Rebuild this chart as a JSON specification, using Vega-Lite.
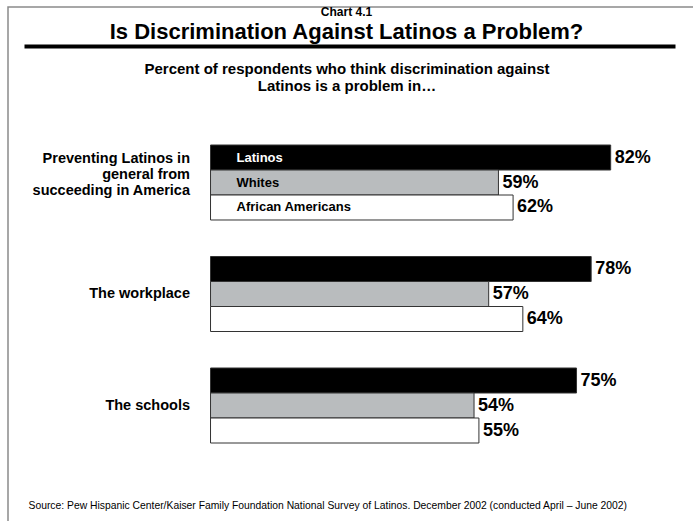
{
  "$schema": "https://vega.github.io/schema/vega-lite/v6.json",
  "width": 685,
  "height": 514,
  "autosize": {"type": "none"},
  "padding": {"left": 8, "top": 7, "right": 0, "bottom": 0},
  "background": "white",
  "config": {
    "font": "Liberation Sans",
    "view": {"stroke": "#8a8a8a", "strokeWidth": 1.5, "strokeDash": [685, 1199, 514]}
  },
  "title": {
    "text": "Chart 4.1",
    "subtitle": "Is Discrimination Against Latinos a Problem?",
    "font": "Liberation Sans",
    "fontSize": 12,
    "fontWeight": "bold",
    "color": "black",
    "subtitleFont": "Liberation Sans",
    "subtitleFontSize": 22,
    "subtitleFontWeight": "bold",
    "subtitleColor": "black",
    "subtitlePadding": 3,
    "anchor": "middle",
    "frame": "group",
    "offset": -37,
    "dx": -4
  },
  "data": {
    "values": [
      {"group": "Preventing Latinos in|general from|succeeding in America", "race": "Latinos", "value": 82},
      {"group": "Preventing Latinos in|general from|succeeding in America", "race": "Whites", "value": 59},
      {"group": "Preventing Latinos in|general from|succeeding in America", "race": "African Americans", "value": 62},
      {"group": "The workplace", "race": "Latinos", "value": 78},
      {"group": "The workplace", "race": "Whites", "value": 57},
      {"group": "The workplace", "race": "African Americans", "value": 64},
      {"group": "The schools", "race": "Latinos", "value": 75},
      {"group": "The schools", "race": "Whites", "value": 54},
      {"group": "The schools", "race": "African Americans", "value": 55}
    ]
  },
  "transform": [{"calculate": "datum.value + '%'", "as": "label"}],
  "encoding": {
    "y": {
      "field": "group",
      "type": "nominal",
      "sort": ["Preventing Latinos in|general from|succeeding in America", "The workplace", "The schools"],
      "scale": {"paddingInner": 0.3274, "paddingOuter": 0.9686, "align": 0.6389},
      "axis": {
        "orient": "left",
        "domain": false,
        "ticks": false,
        "grid": false,
        "labelPadding": -181.5,
        "labelAlign": "right",
        "labelBaseline": "middle",
        "labelOffset": {"condition": {"test": "indexof(datum.value, '|') >= 0", "value": -24}, "value": 0},
        "labelExpr": "split(datum.value, '|')",
        "labelFont": "Liberation Sans",
        "labelFontSize": 14.5,
        "labelFontWeight": "bold",
        "labelColor": "black",
        "labelLineHeight": 16,
        "title": "Source: Pew Hispanic Center/Kaiser Family Foundation National Survey of Latinos. December  2002 (conducted April – June 2002)",
        "titleAngle": 0,
        "titleAlign": "left",
        "titleBaseline": "middle",
        "titleX": 20,
        "titleY": 498,
        "titleFont": "Liberation Sans",
        "titleFontSize": 10.35,
        "titleFontWeight": "normal",
        "titleColor": "black"
      }
    },
    "yOffset": {
      "field": "race",
      "type": "nominal",
      "sort": ["Latinos", "Whites", "African Americans"],
      "scale": {"paddingInner": 0, "paddingOuter": 0}
    }
  },
  "layer": [
    {
      "mark": {"type": "bar", "stroke": "#333333", "strokeWidth": 1},
      "encoding": {
        "x": {
          "field": "value",
          "type": "quantitative",
          "scale": {"domain": [-38.22, 95.18], "range": [16, 667], "nice": false, "zero": false},
          "axis": {
            "orient": "top",
            "offset": -39,
            "labels": false,
            "ticks": false,
            "grid": false,
            "domain": true,
            "domainColor": "black",
            "domainWidth": 4,
            "title": ["Percent of respondents who think discrimination against", "Latinos is a problem in…"],
            "titleFont": "Liberation Sans",
            "titleFontSize": 15,
            "titleFontWeight": "bold",
            "titleColor": "black",
            "titleLineHeight": 17,
            "titleAlign": "center",
            "titleBaseline": "top",
            "titleX": 338.5,
            "titleY": 15,
            "titleAngle": 0
          }
        },
        "x2": {"datum": 0},
        "color": {
          "field": "race",
          "type": "nominal",
          "scale": {"domain": ["Latinos", "Whites", "African Americans"], "range": ["#000000", "#b9bcbe", "#ffffff"]},
          "legend": null
        }
      }
    },
    {
      "mark": {"type": "text", "align": "left", "baseline": "middle", "dx": 4, "font": "Liberation Sans", "fontSize": 18, "fontWeight": "bold", "color": "black"},
      "encoding": {
        "x": {"field": "value", "type": "quantitative"},
        "text": {"field": "label", "type": "nominal"}
      }
    },
    {
      "transform": [{"filter": "datum.group == 'Preventing Latinos in|general from|succeeding in America'"}],
      "mark": {"type": "text", "align": "left", "baseline": "middle", "dx": 26, "font": "Liberation Sans", "fontSize": 13, "fontWeight": "bold"},
      "encoding": {
        "x": {"datum": 0},
        "text": {"field": "race", "type": "nominal"},
        "color": {"condition": {"test": "datum.race == 'Latinos'", "value": "white"}, "value": "black"}
      }
    }
  ]
}
